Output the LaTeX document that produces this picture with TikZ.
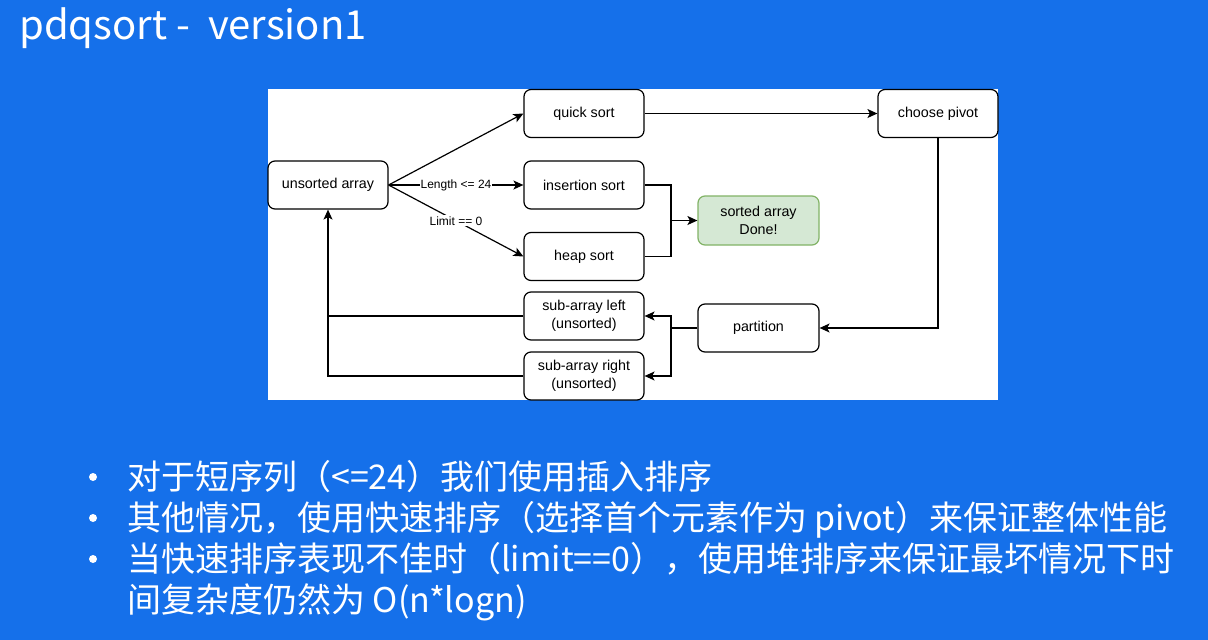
\documentclass[tikz,border=0pt]{standalone}
\usepackage{fontspec}
\setmainfont{Liberation Sans}
\newfontfamily\cjk{Noto Sans CJK SC}
\usetikzlibrary{arrows.meta}
\definecolor{bg}{HTML}{1570EA}
\definecolor{grfill}{HTML}{D5E8D4}
\definecolor{grdraw}{HTML}{82B366}
\begin{document}
\begin{tikzpicture}[x=1pt,y=-1pt,
  box/.style={draw=black,rounded corners=7pt,line width=1.2pt,fill=white,
    minimum width=120pt,minimum height=48pt,inner sep=0pt,align=center,
    font=\fontsize{14.3}{18}\selectfont},
  arr/.style={line width=1.2pt,-{Stealth[length=10pt,width=9pt,inset=2.5pt]}},
  ln/.style={line width=1.2pt},
  lbl/.style={fill=white,inner sep=1pt,font=\fontsize{12}{14}\selectfont},
  bul/.style={anchor=base west,text=white,inner sep=0pt,font=\cjk\fontsize{34}{40}\selectfont},
  dot/.style={circle,fill=white,inner sep=0pt,minimum size=8pt}]
\fill[bg] (0,0) rectangle (1208,640);
\useasboundingbox (0,0) rectangle (1208,640);
\fill[white] (268,89) rectangle (998,400);
\node[anchor=base west,text=white,inner sep=0pt,font=\cjk\fontsize{40}{46}\selectfont] (title) at (19,39) {pdqsort -\hspace{0.45em}version1};
% nodes
\node[box] (unsorted) at (328,185) {unsorted array};
\node[box] (quick) at (584,113.5) {quick sort};
\node[box] (insertion) at (584,185) {insertion sort};
\node[box] (heap) at (584,256.5) {heap sort};
\node[box] (left) at (584,316) {sub-array left\\(unsorted)};
\node[box] (right) at (584,376) {sub-array right\\(unsorted)};
\node[box] (pivot) at (938,113.5) {choose pivot};
\node[box,fill=grfill,draw=grdraw,minimum width=121pt,minimum height=49pt] (sorted) at (758.5,220.5) {sorted array\\Done!};
\node[box,minimum width=121pt] (partition) at (758.5,328) {partition};
% edges
\draw[arr] (unsorted.east) -- (quick.west);
\draw[arr] (unsorted.east) -- node[lbl]{Length <= 24} (insertion.west);
\draw[arr] (unsorted.east) -- node[lbl]{Limit == 0} (heap.west);
\draw[arr] (quick.east) -- (pivot.west);
\coordinate (j1) at (671,220.5);
\draw[ln] (insertion.east) -| (j1);
\draw[ln] (heap.east) -| (j1);
\draw[arr] (j1) -- (sorted.west);
\draw[arr] (pivot.south) |- (partition.east);
\coordinate (j2) at (671,328);
\draw[ln] (partition.west) -- (j2);
\draw[arr] (j2) |- (left.east);
\draw[arr] (j2) |- (right.east);
\draw[ln] (left.west) -- (left.west -| unsorted.south);
\draw[arr] (right.west) -| (unsorted.south);
% bullets
\node[dot] (b1) at (93,477) {};
\node[bul] (t1) at (127,489) {对于短序列（<=24）我们使用插入排序};
\node[dot] (b2) at (93,518) {};
\node[bul] (t2) at (127,530) {其他情况，使用快速排序（选择首个元素作为 pivot）来保证整体性能};
\node[dot] (b3) at (93,559) {};
\node[bul] (t3) at (127,571) {当快速排序表现不佳时（limit==0），使用堆排序来保证最坏情况下时};
\node[bul] (t4) at (127,612) {间复杂度仍然为 O(n*logn)};
\end{tikzpicture}
\end{document}
